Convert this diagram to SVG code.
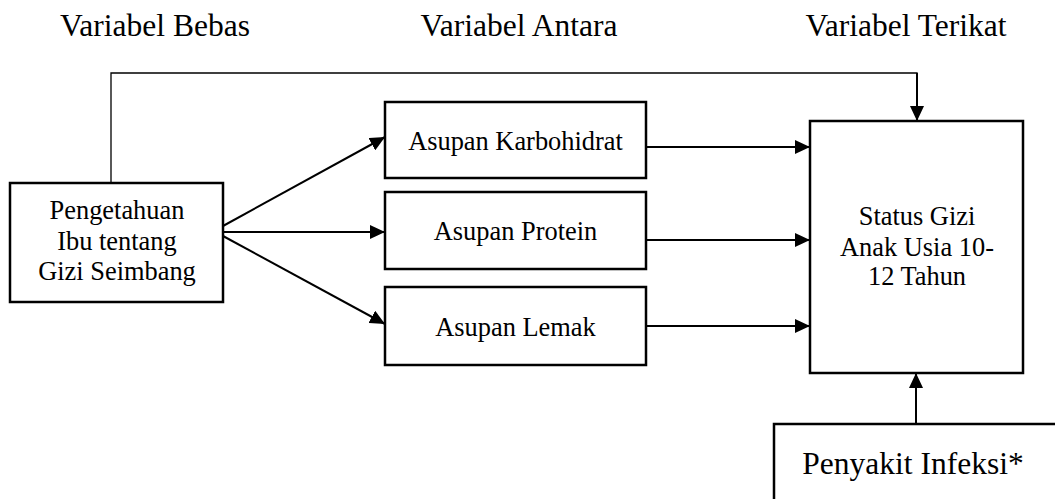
<svg xmlns="http://www.w3.org/2000/svg" width="1055" height="499" viewBox="0 0 1055 499">
<style>
.box{fill:#fff;stroke:#000;stroke-width:2.5}
.t{font-family:"Liberation Serif","Times New Roman",serif;font-size:26.4px;fill:#000;text-anchor:middle}
.h{font-family:"Liberation Serif","Times New Roman",serif;font-size:31.5px;fill:#000;text-anchor:middle}
.c{fill:none;stroke:#000;stroke-width:2}
.thin{fill:none;stroke:#000;stroke-width:1.3}
</style>
<defs>
<marker id="ah" markerUnits="userSpaceOnUse" markerWidth="16" markerHeight="14" refX="15" refY="7" orient="auto">
<path d="M0,0 L15,7 L0,14 Z" fill="#000"/>
</marker>
</defs>
<rect width="1055" height="499" fill="#fff"/>
<text class="h" x="155" y="36">Variabel Bebas</text>
<text class="h" x="519" y="36">Variabel Antara</text>
<text class="h" x="906" y="36">Variabel Terikat</text>
<g id="connectors">
<polyline class="thin" points="111,183 111,73 917,73 917,78"/>
<line class="c" x1="917" y1="73" x2="917" y2="121" marker-end="url(#ah)"/>
<line class="c" x1="223" y1="226" x2="385" y2="137" marker-end="url(#ah)"/>
<line class="c" x1="223" y1="232" x2="385" y2="232" marker-end="url(#ah)"/>
<line class="c" x1="223" y1="236" x2="385" y2="324" marker-end="url(#ah)"/>
<line class="c" x1="646" y1="147" x2="810" y2="147" marker-end="url(#ah)"/>
<line class="c" x1="646" y1="240" x2="810" y2="240" marker-end="url(#ah)"/>
<line class="c" x1="646" y1="326" x2="810" y2="326" marker-end="url(#ah)"/>
<line class="c" x1="916" y1="424" x2="916" y2="373" marker-end="url(#ah)"/>
</g>
<g id="pengetahuan">
<rect class="box" x="10" y="183" width="213" height="119"/>
<text class="t" x="117" y="219">Pengetahuan</text>
<text class="t" x="117" y="250">Ibu tentang</text>
<text class="t" x="117" y="280">Gizi Seimbang</text>
</g>
<g id="karbohidrat">
<rect class="box" x="385" y="102" width="261" height="76"/>
<text class="t" x="515.5" y="150">Asupan Karbohidrat</text>
</g>
<g id="protein">
<rect class="box" x="385" y="192" width="261" height="77"/>
<text class="t" x="515.5" y="240">Asupan Protein</text>
</g>
<g id="lemak">
<rect class="box" x="385" y="287" width="261" height="78"/>
<text class="t" x="515.5" y="336">Asupan Lemak</text>
</g>
<g id="status">
<rect class="box" x="810" y="121" width="213" height="252"/>
<text class="t" x="917" y="225">Status Gizi</text>
<text class="t" x="917" y="256">Anak Usia 10-</text>
<text class="t" x="917" y="285">12 Tahun</text>
</g>
<g id="penyakit">
<rect class="box" x="774" y="424" width="300" height="100"/>
<text class="h" x="913" y="474">Penyakit Infeksi*</text>
</g>
</svg>
